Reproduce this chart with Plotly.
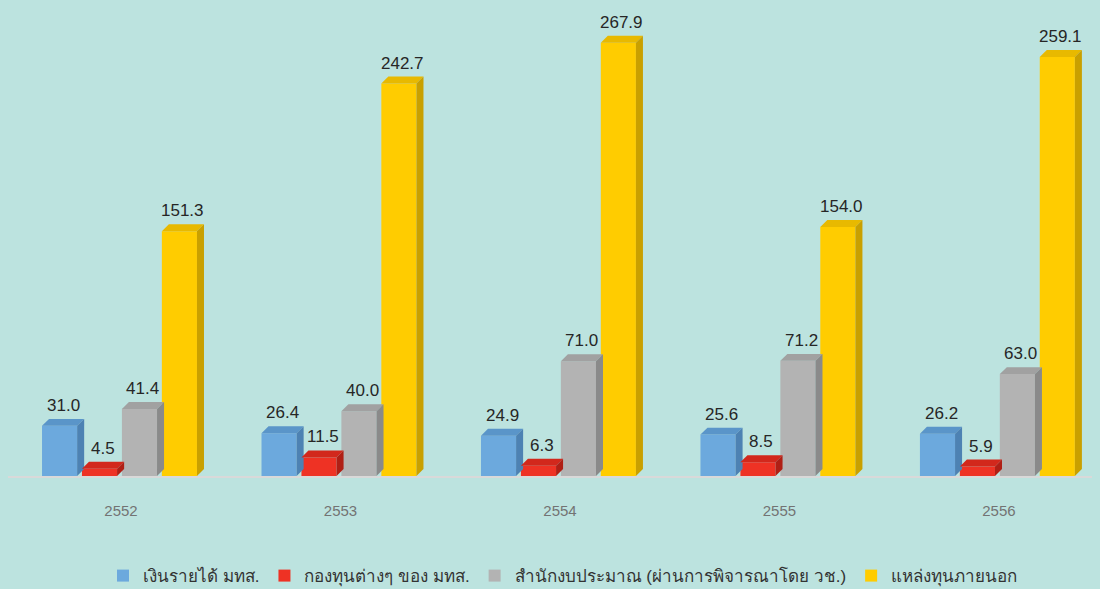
import plotly.graph_objects as go

years = ['2552', '2553', '2554', '2555', '2556']
series_names = ['เงินรายได้ มทส.', 'กองทุนต่างๆ ของ มทส.',
                'สำนักงบประมาณ (ผ่านการพิจารณาโดย วช.)', 'แหล่งทุนภายนอก']
income = [31.0, 26.4, 24.9, 25.6, 26.2]
funds = [4.5, 11.5, 6.3, 8.5, 5.9]
budget = [41.4, 40.0, 71.0, 71.2, 63.0]
external = [151.3, 242.7, 267.9, 154.0, 259.1]

front = ['#6CA9DD', '#EE3224', '#B3B3B3', '#FFCC00']
top = ['#5A95C9', '#D2281C', '#A1A1A1', '#E8B900']
side = ['#4D82B3', '#B01F15', '#8A8A8A', '#C9A000']

values = [income, funds, budget, external]
x = list(range(len(years)))

# bar geometry in axis units
bar_w = 0.16
slot = 0.182
first_offset = -0.36
dx = 0.032   # depth of the 3d face along x
dy = 4.3     # depth of the 3d face along y

fig = go.Figure()
shapes = []
annotations = []
for i, (name, vals) in enumerate(zip(series_names, values)):
    off = first_offset + i * slot
    fig.add_trace(go.Bar(
        x=x, y=vals, name=name, width=bar_w, offset=off,
        marker=dict(color=front[i], line=dict(width=0)),
        hoverinfo='y'))
    for xi, v in zip(x, vals):
        x0 = xi + off
        x1 = x0 + bar_w
        shapes.append(dict(
            type='path', xref='x', yref='y', layer='above', line=dict(width=0),
            fillcolor=top[i],
            path=f'M {x0},{v} L {x0 + dx},{v + dy} L {x1 + dx},{v + dy} L {x1},{v} Z'))
        shapes.append(dict(
            type='path', xref='x', yref='y', layer='above', line=dict(width=0),
            fillcolor=side[i],
            path=f'M {x1},0 L {x1 + dx},{dy} L {x1 + dx},{v + dy} L {x1},{v} Z'))
        annotations.append(dict(
            x=x0 + bar_w / 2 + dx / 2, y=v + dy, xref='x', yref='y',
            text=f'{v:.1f}', showarrow=False, yanchor='bottom', yshift=2,
            font=dict(size=17, color='#262626')))

fig.update_layout(
    width=1100, height=589,
    paper_bgcolor='#BCE3DF', plot_bgcolor='#BCE3DF',
    margin=dict(l=8, r=8, t=7, b=113),
    barmode='overlay',
    shapes=shapes, annotations=annotations,
    font=dict(family='Liberation Sans, Arial, sans-serif'),
    showlegend=True,
    legend=dict(orientation='h', x=0.512, xanchor='center',
                y=0.022, yanchor='middle', yref='container',
                font=dict(size=17, color='#333333'), itemclick=False,
                bgcolor='rgba(0,0,0,0)'),
    xaxis=dict(range=[-0.515, 4.424], tickvals=x, ticktext=years,
               showgrid=False, zeroline=False, showline=True,
               linecolor='#D9D9D9', linewidth=2,
               ticklabelstandoff=20,
               tickfont=dict(size=15, color='#737373')),
    yaxis=dict(range=[0, 290], visible=False, showgrid=False, zeroline=False),
)

fig.write_html('out.html', config={'displayModeBar': False},
               post_script="document.body.style.margin='0';")
